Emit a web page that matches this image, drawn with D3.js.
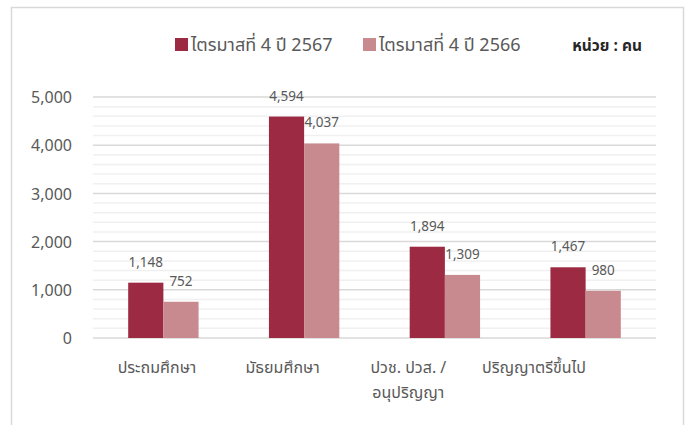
<!DOCTYPE html>
<html>
<head>
<meta charset="utf-8">
<script src="https://cdn.jsdelivr.net/npm/d3@7"></script>
<style>
  body { margin: 0; background: #fff; }
  svg text { font-family: Tahoma, "Noto Sans Thai", "Noto Sans", "DejaVu Sans", sans-serif; }
</style>
</head>
<body>
<svg id="chart"></svg>
<script>
// education levels (x categories)
let categories = ["ประถมศึกษา", "มัธยมศึกษา", "ปวช. ปวส. /\nอนุปริญญา", "ปริญญาตรีขึ้นไป"];
let seriesNames = ["ไตรมาสที่ 4 ปี 2567", "ไตรมาสที่ 4 ปี 2566"];
let values2567 = [1148, 4594, 1894, 1467];
let values2566 = [752, 4037, 1309, 980];
let yTicks = [0, 1000, 2000, 3000, 4000, 5000];
let unitLabel = "หน่วย : คน";

let width = 685;
let height = 425;
let colors = ["#9c2a42", "#c8898f"];

let svg = d3.select("#chart").attr("width", width).attr("height", height);

// outer frame of the chart area
svg.append("rect")
  .attr("x", 11.5).attr("y", 7.5)
  .attr("width", 672).attr("height", 440)
  .attr("fill", "none").attr("stroke", "#d9d9d9").attr("stroke-width", 1.5);

let plotLeft = 93, plotRight = 656, plotTop = 97, plotBottom = 338;

let x = d3.scaleBand().domain(categories).range([plotLeft, plotRight]).paddingInner(0).paddingOuter(0);
let inner = d3.scaleBand().domain([0, 1]).range([0, x.bandwidth()]).paddingInner(0).paddingOuter(1);
let y = d3.scaleLinear().domain([0, 5000]).range([plotBottom, plotTop]);

// category labels sit a bit to the left of the bars in the reference
let labelX = d3.scalePoint().domain(categories).range([157, 534]);

// gridlines: minor every 200, major every 1000
let minor = d3.range(200, 5001, 200).filter(v => v % 1000 !== 0);
svg.append("g").selectAll("line").data(minor).enter().append("line")
  .attr("x1", plotLeft).attr("x2", plotRight)
  .attr("y1", d => y(d)).attr("y2", d => y(d))
  .attr("stroke", "#f0f0f0").attr("stroke-width", 1.5);

svg.append("g").selectAll("line").data(yTicks).enter().append("line")
  .attr("x1", plotLeft).attr("x2", plotRight)
  .attr("y1", d => y(d)).attr("y2", d => y(d))
  .attr("stroke", "#d9d9d9").attr("stroke-width", 1.5);

// y axis labels
let yAxis = svg.append("g")
  .attr("transform", "translate(" + (plotLeft - 21) + ",0)")
  .call(d3.axisLeft(y).tickValues(yTicks).tickFormat(d3.format(",")).tickSize(0).tickPadding(0));
yAxis.select(".domain").remove();
yAxis.selectAll("text")
  .attr("font-size", "16px").attr("fill", "#595959").attr("dy", "0.35em")
  .style("font-family", null);

// bars
let series = [values2567, values2566];
series.forEach(function(vals, si) {
  let g = svg.append("g");
  g.selectAll("rect").data(vals).enter().append("rect")
    .attr("x", (d, i) => x(categories[i]) + inner(si))
    .attr("width", inner.bandwidth())
    .attr("y", d => y(d))
    .attr("height", d => y(0) - y(d))
    .attr("fill", colors[si]);

  g.selectAll("text").data(vals).enter().append("text")
    .attr("x", (d, i) => x(categories[i]) + inner(si) + inner.bandwidth() / 2)
    .attr("y", d => y(d) - 16)
    .attr("text-anchor", "middle")
    .attr("font-size", "13.5px")
    .attr("fill", "#595959")
    .text(d3.format(","));
});

// category labels (may wrap onto two lines)
let catG = svg.append("g");
categories.forEach(function(c) {
  let t = catG.append("text")
    .attr("x", labelX(c)).attr("y", 373)
    .attr("text-anchor", "middle")
    .attr("font-size", "16px").attr("fill", "#595959");
  c.split("\n").forEach(function(line, li) {
    t.append("tspan").attr("x", labelX(c)).attr("dy", li === 0 ? 0 : 25).text(line);
  });
});

// legend
let legend = svg.append("g");
let legendX = [175, 363];
seriesNames.forEach(function(name, i) {
  legend.append("rect")
    .attr("x", legendX[i]).attr("y", 38)
    .attr("width", 13).attr("height", 13)
    .attr("fill", colors[i]);
  legend.append("text")
    .attr("x", legendX[i] + 16).attr("y", 51)
    .attr("font-size", "18px").attr("fill", "#595959")
    .text(name);
});

svg.append("text")
  .attr("x", 642).attr("y", 51)
  .attr("text-anchor", "end")
  .attr("font-size", "15.5px").attr("font-weight", "bold").attr("fill", "#262626")
  .text(unitLabel);
</script>
</body>
</html>
